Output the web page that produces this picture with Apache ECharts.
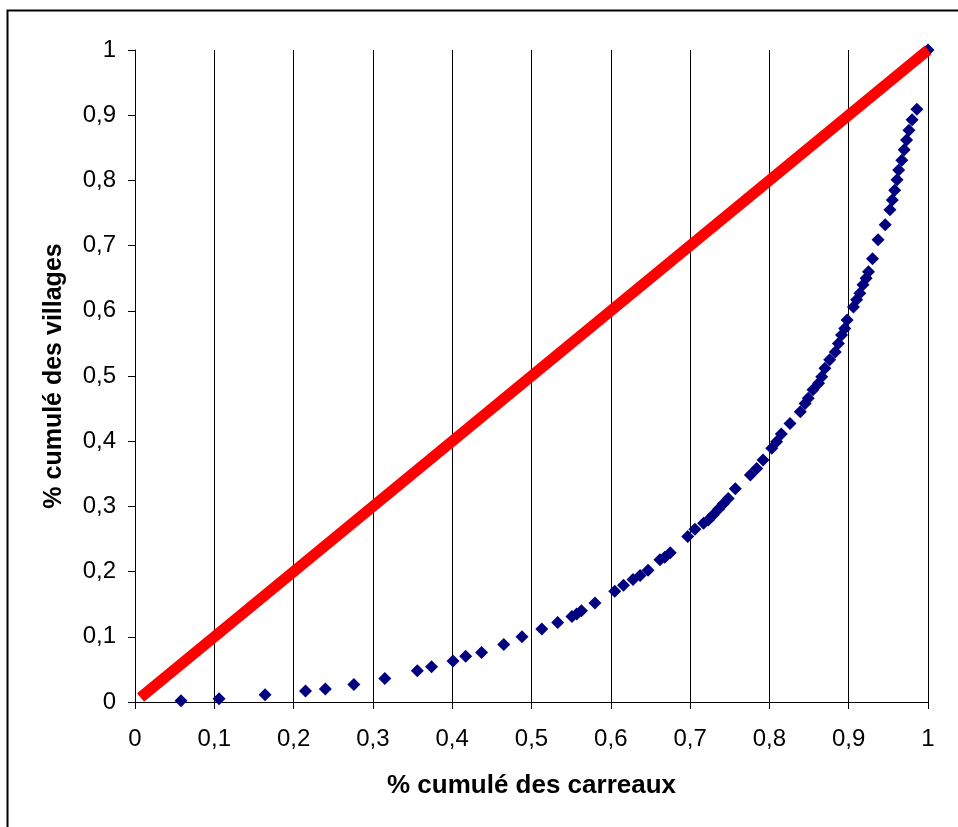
<!DOCTYPE html>
<html>
<head>
<meta charset="utf-8">
<script src="https://cdn.jsdelivr.net/npm/echarts@6/dist/echarts.min.js"></script>
<style>html,body{margin:0;padding:0;background:#fff}#c{width:958px;height:827px}</style>
</head>
<body>
<div id="c"></div>
<script>
var xTitle = '% cumulé des carreaux';
var yTitle = '% cumulé des villages';
var villagesX = [0.058,0.106,0.164,0.215,0.240,0.276,0.315,0.356,0.374,0.401,0.417,0.437,0.465,0.488,0.513,0.533,0.551,0.557,0.563,0.580,0.605,0.616,0.628,0.637,0.647,0.662,0.668,0.675,0.697,0.706,0.717,0.723,0.729,0.736,0.742,0.748,0.757,0.776,0.784,0.792,0.803,0.809,0.815,0.826,0.839,0.845,0.849,0.855,0.862,0.866,0.870,0.876,0.883,0.887,0.891,0.895,0.898,0.906,0.910,0.914,0.918,0.922,0.925,0.930,0.937,0.946,0.952,0.955,0.958,0.961,0.963,0.967,0.970,0.973,0.976,0.980,0.986,1.0];
var villagesY = [0.002,0.005,0.011,0.017,0.020,0.027,0.036,0.048,0.054,0.063,0.070,0.076,0.088,0.100,0.112,0.122,0.131,0.135,0.140,0.152,0.170,0.179,0.188,0.194,0.202,0.218,0.222,0.229,0.254,0.265,0.274,0.279,0.287,0.296,0.304,0.312,0.327,0.348,0.358,0.371,0.389,0.399,0.411,0.427,0.445,0.458,0.466,0.479,0.489,0.499,0.512,0.525,0.537,0.550,0.563,0.573,0.586,0.606,0.617,0.627,0.640,0.650,0.660,0.680,0.709,0.732,0.755,0.770,0.785,0.801,0.816,0.831,0.847,0.862,0.877,0.893,0.909,1.0];
var diagX = [0.007, 1.0];
var diagY = [0.007, 1.0];

function pairs(a, b){ return a.map(function(v,i){ return [v, b[i]]; }); }
function fmt(v){ return String(Math.round(v*10)/10).replace('.', ','); }

var chart = echarts.init(document.getElementById('c'), null, {renderer:'canvas'});
var FF = 'Liberation Sans, Arial, sans-serif';
var labelStyle = {fontFamily:FF, fontSize:24, color:'#000'};
chart.setOption({
  animation:false,
  backgroundColor:'#fff',
  graphic:[{type:'rect', left:5, top:8, shape:{width:1000, height:900}, style:{fill:'none', stroke:'#000', lineWidth:2}, silent:true, z:-10}],
  grid:{left:135, right:30, top:50, bottom:125, containLabel:false},
  xAxis:{
    type:'value', min:0, max:1, interval:0.1,
    name:xTitle, nameLocation:'middle', nameGap:71,
    nameTextStyle:{fontFamily:FF, fontSize:26, fontWeight:'bold', color:'#000'},
    axisLine:{show:true, onZero:false, lineStyle:{color:'#000', width:1}},
    axisTick:{show:true, inside:false, length:7, lineStyle:{color:'#000'}},
    axisLabel:Object.assign({margin:25, formatter:fmt}, labelStyle),
    splitLine:{show:true, lineStyle:{color:'#000', width:1}}
  },
  yAxis:{
    type:'value', min:0, max:1, interval:0.1,
    name:yTitle, nameLocation:'middle', nameGap:68,
    nameTextStyle:{fontFamily:FF, fontSize:25, fontWeight:'bold', color:'#000'},
    axisLine:{show:true, onZero:false, lineStyle:{color:'#000', width:1}},
    axisTick:{show:true, inside:false, length:7, lineStyle:{color:'#000'}},
    axisLabel:Object.assign({margin:19, formatter:fmt}, labelStyle),
    splitLine:{show:false}
  },
  series:[
    {type:'scatter', data:pairs(villagesX, villagesY), symbol:'diamond', symbolSize:13,
     itemStyle:{color:'#000080', opacity:1}, z:2},
    {type:'line', data:pairs(diagX, diagY), symbol:'none', lineStyle:{color:'#ff0000', width:11, cap:'butt'}, z:3}
  ]
});
</script>
</body>
</html>
